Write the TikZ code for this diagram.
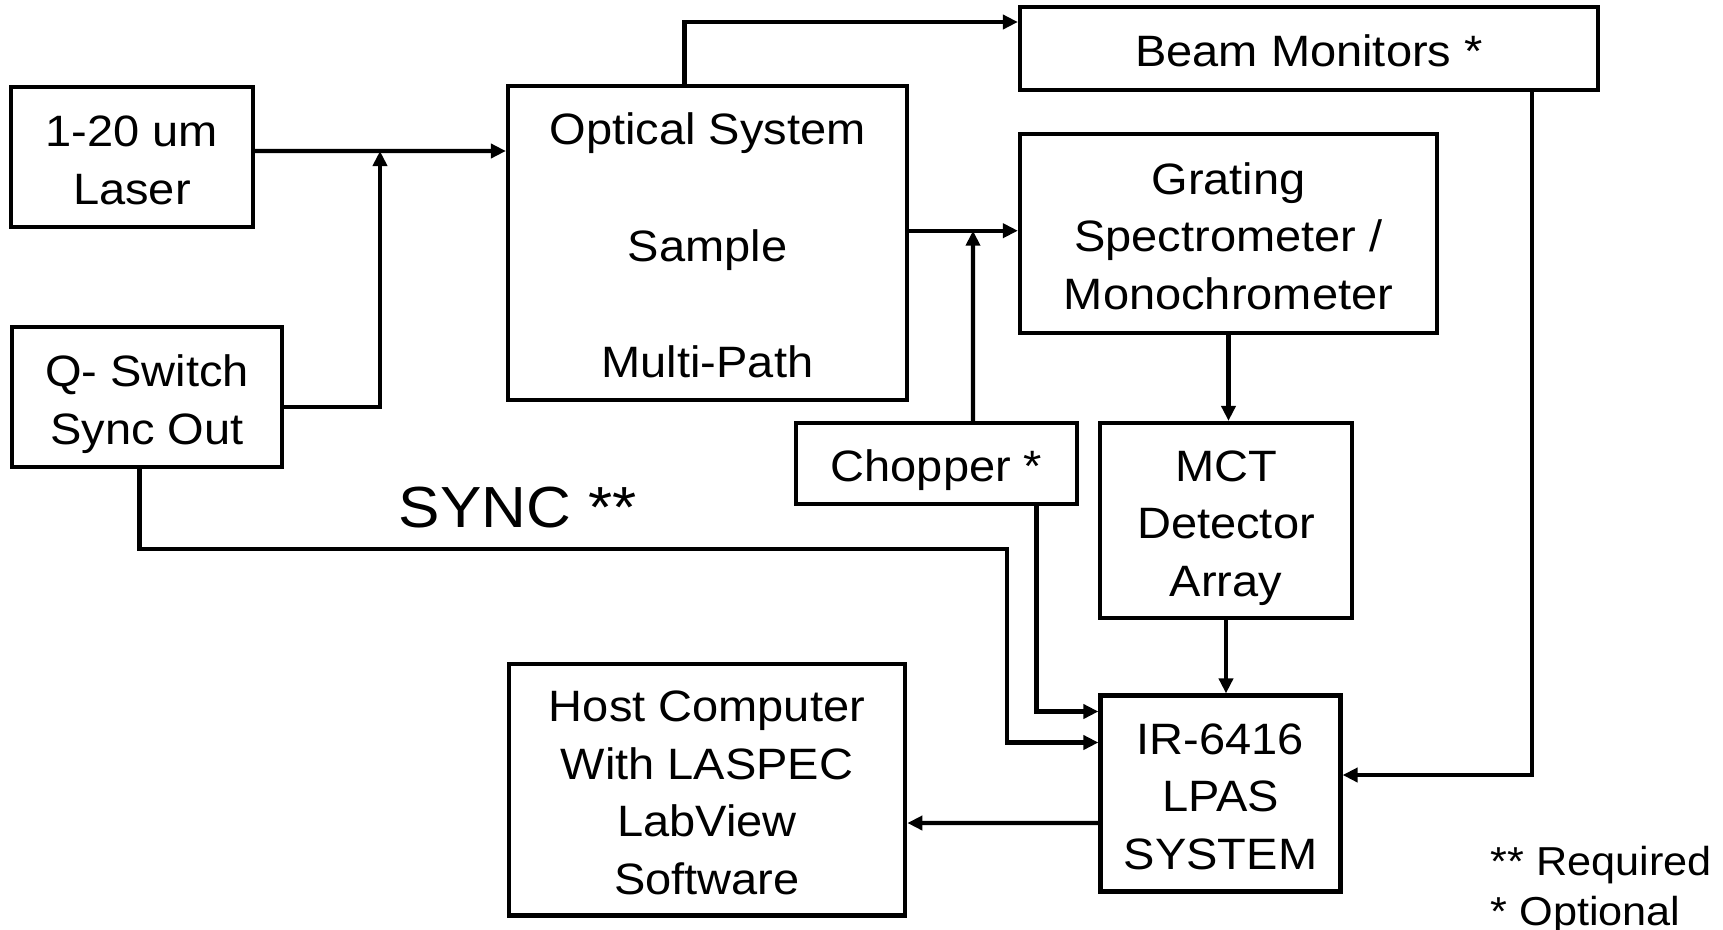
\documentclass[tikz,border=0pt]{standalone}
\usepackage{fontspec}
\setmainfont[FakeStretch=1.07]{Liberation Sans}
\usetikzlibrary{arrows.meta}
\newcommand{\boxstrut}{\rule[-2.7pt]{0pt}{15.8pt}}
\newcommand{\boxtext}[1]{\boxstrut#1\boxstrut}

\begin{document}
\begin{tikzpicture}[
    box/.style={draw, line width=1.2pt, align=center, inner sep=0pt,
      font=\fontsize{12.5}{16.4}\selectfont},
    arr/.style={line width=1.2pt, -{Triangle[length=0.15cm,width=0.14cm]}}
  ]
  \useasboundingbox (0,0) rectangle (17.23,-9.29);

  % Blocos da fonte
  \node[box, minimum width=2.42cm, minimum height=1.40cm] (laser) at (1.32,-1.57) {\boxtext{1-20 um\\Laser}};
  \node[box, minimum width=2.70cm, minimum height=1.40cm] (qswitch) at (1.47,-3.97) {\boxtext{Q- Switch\\Sync Out}};

  % Blocos opticos
  \node[box, minimum width=3.99cm, minimum height=3.14cm] (optical) at (7.075,-2.43) {\boxtext{Optical System\\[16.7pt]Sample\\[16.7pt]Multi-Path}};
  \node[box, minimum width=5.78cm, minimum height=0.83cm] (beam) at (13.09,-0.485) {\boxtext{Beam Monitors *}};
  \node[box, minimum width=4.17cm, minimum height=1.99cm] (grating) at (12.285,-2.335) {\boxtext{Grating\\Spectrometer /\\Monochrometer}};
  \node[box, minimum width=2.81cm, minimum height=0.81cm] (chopper) at (9.365,-4.635) {\boxtext{Chopper *}};
  \node[box, minimum width=2.52cm, minimum height=1.95cm] (mct) at (12.26,-5.205) {\boxtext{MCT\\Detector\\Array}};

  % Aquisicao
  \node[box, minimum width=2.40cm, minimum height=1.96cm] (ir) at (12.205,-7.935) {\boxtext{IR-6416\\LPAS\\SYSTEM}};
  \node[box, minimum width=3.965cm, minimum height=2.515cm] (host) at (7.07,-7.8975) {\boxtext{Host Computer\\With LASPEC\\LabView\\Software}};

  % Textos soltos
  \node[anchor=base west, inner sep=0pt, font=\fontsize{16.5}{19}\selectfont] (sync) at (3.98,-5.27) {SYNC **};
  \node[anchor=base west, inner sep=0pt, font=\fontsize{11.5}{14}\selectfont] (req) at (14.90,-8.75) {** Required};
  \node[anchor=base west, inner sep=0pt, font=\fontsize{11.5}{14}\selectfont] (opt) at (14.90,-9.25) {* Optional};

  % Pontos de juncao
  \coordinate (j1) at (3.80,-1.51);
  \coordinate (j2) at (9.73,-2.307);
  \coordinate (s2) at (10.07,-5.49);

  % Setas
  \draw[arr] ([yshift=0.6mm]laser.east) -- (optical.west |- j1);
  \draw[arr] ([yshift=-1mm]qswitch.east) -| (j1);
  \draw[arr] ([xshift=-2.3mm]optical.north) |- ([yshift=2.65mm]beam.west);
  \draw[arr] (optical.east |- j2) -- (grating.west |- j2);
  \draw[arr] ([xshift=3.65mm]chopper.north) -- (j2);
  \draw[arr] (grating.south) -- (grating.south |- mct.north);
  \draw[arr] (mct.south) -- (mct.south |- ir.north);
  \draw[arr] ([xshift=10mm]chopper.south) |- ([yshift=8.2mm]ir.west);
  \draw[arr] ([xshift=-0.75mm]qswitch.south) |- (s2) |- ([yshift=5.1mm]ir.west);
  \draw[arr] ([xshift=22.3mm]beam.south) |- ([yshift=1.85mm]ir.east);
  \draw[arr] ([yshift=-2.95mm]ir.west) -- ([yshift=-3.325mm]host.east);
\end{tikzpicture}
\end{document}
